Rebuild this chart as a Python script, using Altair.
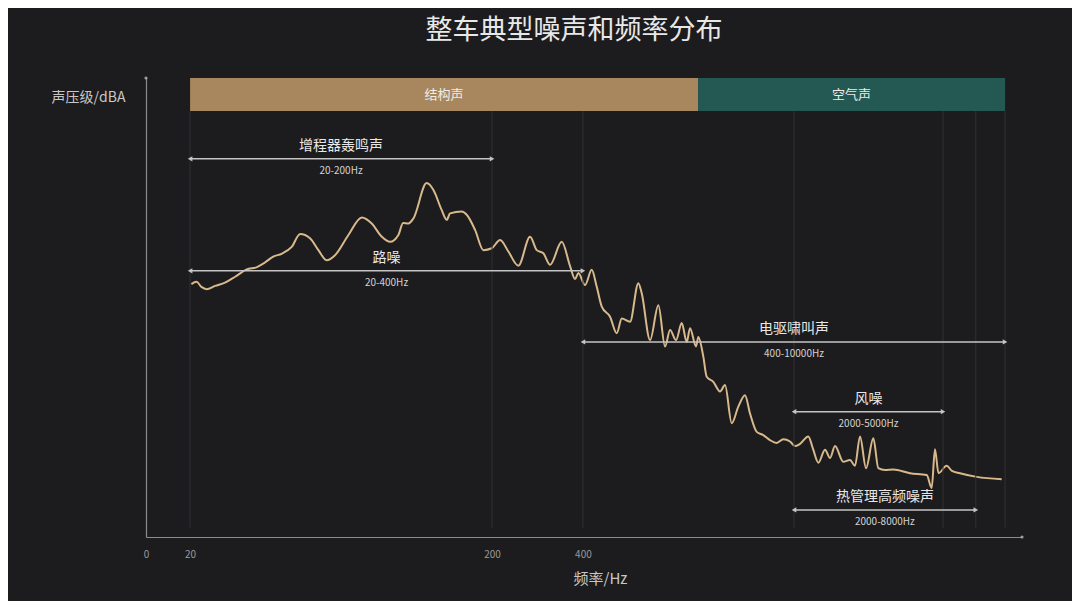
import altair as alt
import pandas as pd

FONT = "Noto Sans CJK SC"

title_text = "整车典型噪声和频率分布"
x_title = "频率/Hz"
y_title = "声压级/dBA"

# noise spectrum (frequency in Hz, relative level)
curve_freq = [20.2, 21.0, 21.8, 22.7, 24.2, 26.1, 28.2, 30.8, 33.3, 35.4, 37.7, 40.2, 43.4, 46.3, 49.9,
              53.2, 56.7, 60.4, 66.9, 74.1, 79.9, 86.3, 91.9, 97.9, 101.5, 105.7, 109.8, 121.5, 127.9,
              136.3, 141.6, 145.2, 158.8, 164.9, 175.7, 187.2, 199.5, 212.6, 226.5, 244.4, 267.3, 281.2,
              295.8, 311.3, 340.3, 362.6, 376.6, 386.2, 406.4, 427.6, 444.4, 461.7, 491.8, 517.6, 537.8,
              572.8, 610.2, 626.2, 667.4, 710.9, 748.2, 777.2, 813.6, 849.6, 882.6, 905, 947.4, 964.2,
              1001.6, 1027.8, 1081, 1137.8, 1181.8, 1243.8, 1308, 1376.4, 1430, 1505, 1582.6, 1665.4,
              1752.8, 1843.6, 1940.2, 2015, 2094, 2230, 2312, 2408, 2534, 2632, 2734, 2912, 3064, 3184,
              3308, 3464, 3662, 3804, 4002, 4264, 4844, 5502, 5714, 5860, 6018, 6406, 6670, 7090, 8054, 9746]
curve_level = [55.1, 55.6, 54.5, 54.0, 54.7, 55.4, 56.7, 58.3, 58.8, 59.8, 61.1, 61.7, 63.2, 66.0, 65.1,
               62.5, 60.3, 61.4, 65.8, 69.6, 68.3, 65.4, 64.3, 65.8, 68.4, 68.3, 69.4, 77.1, 75.6,
               71.2, 69.1, 70.5, 70.9, 70.2, 66.9, 62.5, 62.9, 64.7, 62.2, 59.1, 65.4, 62.5,
               61.8, 59.3, 64.3, 59.0, 56.2, 57.5, 54.9, 58.2, 54.5, 50.2, 48.0, 44.4, 47.6,
               46.9, 55.3, 53.1, 42.9, 50.5, 41.5, 45.1, 42.9, 46.6, 42.5, 45.5, 41.5, 43.6,
               39.3, 34.9, 33.8, 31.7, 33.1, 24.8, 28.4, 30.9, 26.9, 22.9, 22.2, 21.1,
               20.5, 21.3, 20.8, 19.8, 20.3, 21.9, 19.2, 16.2, 19.0, 17.2, 19.8, 16.4, 16.8, 15.5,
               21.9, 15.0, 21.5, 15.0, 14.6, 14.7, 13.9, 13.5, 10.7, 19.1, 13.9, 15.5, 14.4, 13.9, 13.1, 12.6]

# top category bands
band_names = ["结构声", "空气声"]
band_start = [20, 962]
band_end = [962, 10000]
band_colors = ["#a8875f", "#245852"]
band_bottom = 92.8
band_top = 100

# frequency span annotations
span_names = ["增程器轰鸣声", "路噪", "电驱啸叫声", "风噪", "热管理高频噪声"]
span_ranges = ["20-200Hz", "20-400Hz", "400-10000Hz", "2000-5000Hz", "2000-8000Hz"]
span_start = [20, 20, 400, 2000, 2000]
span_end = [200, 400, 10000, 6230, 8000]   # 风噪 arrow drawn to where the picture ends it
span_level = [82.4, 58.0, 42.5, 27.3, 5.9]

# faint vertical guide lines
grid_freq = [20, 200, 400, 2000, 6230, 8000, 10000]

# axis
x_min, x_max = 14.29, 11378
tick_values = [14.29, 20, 200, 400]

xscale = alt.Scale(type="log", domain=[x_min, x_max], nice=False)
yscale = alt.Scale(domain=[0, 100], nice=False, zero=False)

curve_df = pd.DataFrame({"freq": curve_freq, "level": curve_level})
band_df = pd.DataFrame({"name": band_names, "start": band_start, "end": band_end})
span_df = pd.DataFrame({"name": span_names, "range": span_ranges, "start": span_start,
                        "end": span_end, "level": span_level})
grid_df = pd.DataFrame({"freq": grid_freq})
axis_end_df = pd.DataFrame({"freq": [x_min, x_max], "level": [100, 0]})

curve = alt.Chart(curve_df).mark_line(
    color="#d8b98c", strokeWidth=2, interpolate="monotone"
).encode(
    x=alt.X("freq:Q", scale=xscale, axis=alt.Axis(
        title=x_title, values=tick_values,
        labelExpr="datum.value < 15 ? '0' : format(datum.value, 'd')",
        ticks=False, grid=False, labelFlush=False, labelOverlap=False,
        labelFontSize=10, labelColor="#9a9a9a", labelPadding=12, labelFont=FONT,
        domainColor="#8c8c8c", domainWidth=1.2,
        titleFontSize=15, titleColor="#c8c8c8", titleFontWeight="normal", titleFont=FONT,
        titleX=454, titleY=41, titleAlign="center", titleBaseline="middle")),
    y=alt.Y("level:Q", scale=yscale, axis=alt.Axis(
        title=y_title, labels=False, ticks=False, grid=False,
        domainColor="#8c8c8c", domainWidth=1.2,
        titleAngle=0, titleAlign="right", titleBaseline="middle", titleX=-21, titleY=19,
        titleFontSize=14, titleColor="#c8c8c8", titleFontWeight="normal", titleFont=FONT)),
)

grid = alt.Chart(grid_df).mark_rule(color="#303034", strokeWidth=1).encode(
    x=alt.X("freq:Q", scale=xscale),
    y=alt.datum(2),
    y2=alt.datum(band_bottom),
)

bands = alt.Chart(band_df).mark_rect().encode(
    x=alt.X("start:Q", scale=xscale),
    x2="end:Q",
    y=alt.datum(band_bottom),
    y2=alt.datum(band_top),
    color=alt.Color("name:N", scale=alt.Scale(domain=band_names, range=band_colors), legend=None),
)

band_text = alt.Chart(band_df).transform_calculate(
    mid="sqrt(datum.start * datum.end)"
).mark_text(color="#f0ece6", fontSize=13, font=FONT, baseline="middle").encode(
    x=alt.X("mid:Q", scale=xscale),
    y=alt.datum((band_bottom + band_top) / 2),
    text="name:N",
)

span_rule = alt.Chart(span_df).mark_rule(color="#c4c4c4", strokeWidth=1.5).encode(
    x=alt.X("start:Q", scale=xscale),
    x2="end:Q",
    y=alt.Y("level:Q", scale=yscale),
)

head_left = alt.Chart(span_df).mark_point(
    shape="triangle-left", filled=True, size=28, color="#c4c4c4", opacity=1
).encode(x=alt.X("start:Q", scale=xscale), y=alt.Y("level:Q", scale=yscale))

head_right = alt.Chart(span_df).mark_point(
    shape="triangle-right", filled=True, size=28, color="#c4c4c4", opacity=1
).encode(x=alt.X("end:Q", scale=xscale), y=alt.Y("level:Q", scale=yscale))

span_name_text = alt.Chart(span_df).transform_calculate(
    mid="sqrt(datum.start * datum.end)"
).mark_text(color="#e8e8e8", fontSize=14, font=FONT, dy=-13, baseline="middle").encode(
    x=alt.X("mid:Q", scale=xscale), y=alt.Y("level:Q", scale=yscale), text="name:N",
)

span_range_text = alt.Chart(span_df).transform_calculate(
    mid="sqrt(datum.start * datum.end)"
).mark_text(color="#d2d2d2", fontSize=10, font=FONT, dy=12, baseline="middle").encode(
    x=alt.X("mid:Q", scale=xscale), y=alt.Y("level:Q", scale=yscale), text="range:N",
)

axis_ends = alt.Chart(axis_end_df).mark_point(
    shape="circle", filled=True, size=10, color="#a0a0a0", opacity=1
).encode(x=alt.X("freq:Q", scale=xscale), y=alt.Y("level:Q", scale=yscale))

chart = alt.layer(
    curve, grid, bands, band_text, span_rule, head_left, head_right,
    span_name_text, span_range_text, axis_ends
).properties(
    width=876,
    height=459,
    autosize="none",
    padding={"left": 138, "top": 70, "right": 50, "bottom": 64},
    title=alt.TitleParams(title_text, fontSize=27, color="#e8e8e8", fontWeight="normal",
                          font=FONT, anchor="middle", offset=31, dx=-10),
).configure(
    background="#1c1c1e",
).configure_view(stroke=None)

chart.save("out.html", embed_options={"renderer": "svg", "actions": False})
